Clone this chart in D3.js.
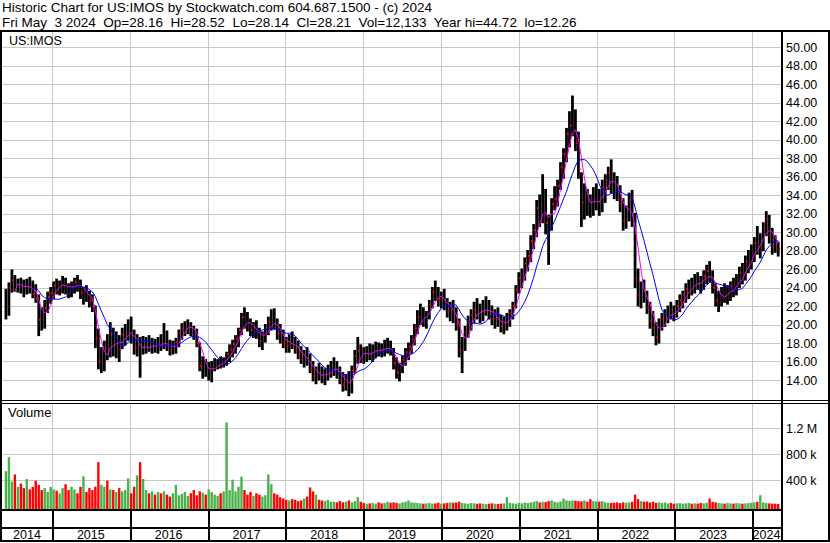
<!DOCTYPE html>
<html>
<head>
<meta charset="utf-8">
<script src="https://cdn.jsdelivr.net/npm/d3@7"></script>
<style>
  body { margin: 0; background: #fff; }
  svg { display: block; font-family: "Liberation Sans", Arial, sans-serif; }
  text { white-space: pre; fill: #000; }
</style>
</head>
<body>
<svg id="chart" width="830" height="543"></svg>
<script>
// biweekly bars, last one is Fri May 3 2024
const lastDate = new Date(Date.UTC(2024, 4, 3));

const highs = [
  23.8,24.5,25.9,25.3,24.9,25.0,24.8,24.9,25.1,24.7,
  24.3,23.2,21.8,22.6,23.5,24.0,24.6,24.9,24.7,25.2,
  25.0,24.4,24.6,25.0,25.3,24.8,24.0,24.2,23.6,23.2,
  22.0,19.5,17.5,18.2,18.9,20.2,19.6,19.2,18.8,19.6,
  20.0,20.5,20.8,19.4,18.9,18.6,18.7,18.6,18.8,18.5,
  18.4,18.6,18.9,20.1,19.3,18.3,18.2,18.5,19.4,20.1,
  20.3,20.5,20.2,19.8,19.5,18.0,16.5,16.2,15.9,16.0,
  16.3,16.2,16.5,16.4,17.0,17.8,18.3,18.8,19.6,21.2,
  21.8,21.3,20.6,20.2,20.4,19.6,19.2,20.0,20.8,21.6,
  21.7,20.6,20.0,19.4,18.6,18.9,19.2,18.6,18.2,17.6,
  17.2,17.5,16.8,16.0,15.4,15.8,15.4,15.2,15.6,16.0,
  16.4,16.0,15.4,14.8,14.6,14.9,15.5,17.2,18.6,17.8,
  17.5,17.6,17.9,17.8,18.1,18.0,17.9,18.3,18.5,18.2,
  17.4,16.4,15.8,16.6,17.4,18.0,18.8,20.0,21.5,22.2,
  21.8,21.4,22.6,24.0,24.7,24.0,23.5,23.8,22.8,22.4,
  22.6,21.8,20.6,18.6,19.8,20.9,21.6,22.4,22.8,22.2,
  22.6,23.0,22.6,22.0,21.6,21.8,21.0,20.8,21.2,21.6,
  22.4,24.2,25.6,26.0,27.2,28.0,29.6,30.8,33.4,34.0,
  36.2,34.6,31.8,33.6,34.9,35.6,37.5,39.0,41.2,43.0,
  44.7,43.2,40.8,36.4,35.2,34.6,34.0,34.8,35.2,34.6,
  35.6,36.2,37.0,37.8,36.4,36.0,35.0,33.6,32.8,34.2,
  34.5,32.0,26.0,24.6,24.8,23.6,22.4,21.4,20.2,20.6,
  21.2,21.6,22.0,22.4,22.0,22.6,23.2,23.6,24.4,24.8,
  25.0,25.4,25.6,25.2,25.8,26.4,26.8,25.8,24.4,23.6,
  24.0,24.4,24.2,24.6,25.0,25.4,26.2,26.6,27.4,28.0,
  28.6,29.4,30.6,29.8,31.0,32.2,31.8,30.4,29.6,28.9
];
const lows = [
  20.6,21.0,23.5,23.6,23.5,23.4,23.0,23.3,23.4,22.9,
  22.4,18.8,19.4,19.6,21.3,22.3,22.8,23.3,23.2,23.4,
  23.3,22.9,23.0,23.4,23.6,22.8,22.2,22.5,21.9,21.4,
  17.5,15.2,14.8,15.0,16.2,16.5,16.6,16.4,16.0,17.4,
  17.8,18.3,18.0,16.8,16.6,14.3,16.8,16.9,17.1,16.9,
  17.0,16.9,17.2,17.4,17.2,16.7,16.8,16.9,17.6,18.4,
  18.8,19.0,18.8,18.4,17.6,15.0,14.2,14.4,14.0,13.8,
  15.0,15.2,15.3,15.4,15.6,16.0,16.5,16.9,17.6,18.9,
  19.6,19.3,18.8,18.6,18.5,17.6,17.3,18.1,18.9,19.4,
  19.5,18.4,18.0,17.5,17.0,17.0,17.4,16.9,16.3,15.8,
  15.4,15.6,14.8,13.9,13.6,14.0,13.7,13.5,14.0,14.3,
  14.5,14.2,13.6,12.8,12.9,12.3,12.6,14.8,15.8,15.9,
  15.8,16.0,16.2,16.0,16.4,16.6,16.5,16.6,16.9,16.7,
  15.2,14.2,13.9,14.8,15.6,16.2,16.9,17.8,19.0,20.0,
  19.8,19.6,20.6,21.8,22.6,22.0,21.8,21.6,20.8,20.4,
  20.2,19.4,16.5,14.8,17.2,18.6,19.4,20.2,20.6,20.2,
  20.4,21.0,20.6,20.0,19.6,19.8,19.2,19.0,19.4,19.8,
  20.6,21.8,23.4,24.0,24.8,25.8,26.8,28.2,29.5,30.6,
  31.0,29.8,26.5,30.2,32.4,32.8,34.6,35.8,37.6,39.2,
  40.4,38.8,35.8,30.6,31.4,31.8,31.6,31.8,32.4,31.8,
  32.2,33.2,34.6,34.2,33.6,33.4,32.2,30.2,30.4,31.2,
  30.6,24.0,22.0,21.8,22.4,21.2,19.6,18.8,17.8,18.0,
  19.4,19.8,20.2,20.6,20.4,20.8,21.4,21.8,22.4,22.8,
  23.2,23.4,23.8,23.4,23.8,24.4,24.6,23.4,22.0,21.4,
  22.0,22.4,22.2,22.6,23.0,23.2,24.0,24.4,24.8,25.6,
  26.0,26.8,27.6,27.2,28.0,29.6,28.8,27.6,27.8,27.4
];
const closes = [
  21.5,24.0,24.8,24.2,24.4,24.0,23.8,24.3,24.2,23.3,
  22.8,20.5,20.0,21.8,23.0,23.4,24.2,24.0,24.4,24.5,
  23.9,23.6,24.2,24.6,24.5,23.4,23.5,23.0,22.6,22.0,
  18.5,16.0,16.5,17.5,16.8,19.0,17.5,18.4,17.3,18.9,
  19.2,19.8,18.6,17.4,17.9,17.0,17.6,17.8,17.5,17.7,
  17.6,18.0,17.8,18.3,17.6,17.2,17.5,18.1,19.0,19.6,
  19.9,20.0,19.4,19.0,18.0,15.5,15.6,14.9,15.0,15.3,
  15.6,15.9,15.8,16.0,16.8,17.3,17.9,18.5,19.4,20.8,
  20.5,20.0,19.4,19.7,19.0,18.2,18.6,19.6,20.3,20.6,
  20.0,19.0,18.6,18.0,17.6,18.3,17.8,17.4,16.8,16.2,
  16.5,16.0,15.2,14.4,14.8,14.6,14.2,14.6,15.0,15.3,
  15.6,14.8,14.0,13.5,13.9,13.2,15.0,16.6,17.2,16.8,
  16.6,17.0,16.8,17.2,17.5,17.2,17.0,17.6,17.9,17.1,
  15.8,14.8,15.3,16.2,17.0,17.6,18.4,19.6,20.8,21.2,
  20.5,20.9,22.2,23.5,23.2,22.6,23.0,22.2,21.4,21.8,
  21.0,20.0,17.2,17.8,19.2,20.2,21.0,21.6,21.4,21.0,
  21.8,22.0,21.2,20.6,20.8,20.2,19.8,20.2,20.6,21.2,
  22.0,23.8,25.0,25.2,26.6,27.4,29.0,30.2,32.6,31.4,
  33.4,31.0,30.4,33.0,33.6,35.0,37.0,38.4,40.6,41.5,
  42.4,39.6,36.8,33.2,33.8,33.0,32.6,33.6,34.0,32.8,
  34.8,35.6,36.4,35.2,34.6,34.2,33.0,31.2,32.2,33.4,
  31.6,25.0,23.2,23.8,23.0,21.8,20.4,19.6,18.6,19.8,
  20.6,20.8,21.4,21.2,21.0,22.0,22.6,23.2,23.8,24.2,
  24.0,24.8,24.6,24.4,25.2,25.8,25.4,24.0,22.6,22.8,
  23.4,23.0,23.6,24.2,23.8,24.8,25.6,25.2,26.8,27.0,
  27.8,28.8,28.4,29.2,30.4,31.4,29.6,28.6,28.4,28.21
];
// volume in thousands of shares
const volumes = [
  540,755,380,490,300,350,280,420,260,300,
  395,330,250,280,220,300,260,240,200,280,
  340,250,300,260,200,300,460,220,280,250,
  300,680,330,300,395,260,250,220,280,230,
  250,430,200,300,475,680,420,250,200,230,
  180,220,200,230,180,150,200,330,170,190,
  220,160,200,250,170,230,210,180,260,220,
  180,160,200,230,1290,250,410,230,300,455,
  250,180,220,160,200,180,150,170,490,340,
  200,180,140,120,100,90,110,100,80,90,
  120,150,290,230,180,100,90,80,100,70,
  70,60,80,60,70,90,60,80,140,70,
  50,40,45,50,40,60,45,50,70,55,
  60,50,45,60,70,90,60,55,50,45,
  40,45,50,40,45,55,40,45,50,60,
  55,60,70,50,45,40,50,45,40,45,
  40,35,40,45,40,35,40,45,140,50,
  45,40,50,45,55,50,60,70,80,60,
  70,65,80,90,70,60,75,120,90,85,
  90,85,80,75,90,70,110,80,75,70,
  80,60,55,50,55,60,50,60,55,60,
  70,180,110,80,70,75,60,70,55,60,
  50,60,45,50,40,45,50,40,45,50,
  40,45,40,50,45,55,120,70,60,50,
  45,40,50,45,40,50,45,40,45,50,
  55,60,70,170,60,50,45,40,40,35
];

const priceTicks = [14,16,18,20,22,24,26,28,30,32,34,36,38,40,42,44,46,48,50];
const volumeTicks = [400000, 800000, 1200000];
const volumeTickLabels = ['400 k', '800 k', '1.2 M'];
const years = [2014,2015,2016,2017,2018,2019,2020,2021,2022,2023,2024];

const titleLine = 'Historic Chart for US:IMOS by Stockwatch.com 604.687.1500 - (c) 2024';
const quoteLine = 'Fri May  3 2024  Op=28.16  Hi=28.52  Lo=28.14  Cl=28.21  Vol=12,133  Year hi=44.72  lo=12.26';

const svg = d3.select('#chart');
const W = 830, H = 543;
const plotL = 2, plotR = 781;
const priceTop = 32, priceBot = 400;
const volTop = 403, volBot = 509;

const n = closes.length;
const dates = closes.map((_, i) => d3.utcDay.offset(lastDate, -14 * (n - 1 - i)));
const idx = d3.range(n);

const x = d3.scaleUtc()
  .domain([new Date(Date.UTC(2014, 0, 1)), new Date(Date.UTC(2024, 0, 1))])
  .range([-25.8, 752]);
const y = d3.scaleLinear().domain([14, 50]).range([380, 47]);
const yv = d3.scaleLinear().domain([0, 1200000]).range([506.3, 428.3]);

svg.append('rect').attr('width', W).attr('height', H).attr('fill', '#fff');

const defs = svg.append('defs');
defs.append('clipPath').attr('id', 'clipP')
  .append('rect').attr('x', plotL).attr('y', priceTop).attr('width', plotR - plotL).attr('height', priceBot - priceTop);
defs.append('clipPath').attr('id', 'clipV')
  .append('rect').attr('x', plotL).attr('y', volTop).attr('width', plotR - plotL).attr('height', volBot - volTop);

// gridlines
const grid = svg.append('g').attr('stroke', '#c8c8c8').attr('stroke-width', 1).attr('shape-rendering', 'crispEdges');
priceTicks.forEach(p => {
  grid.append('line').attr('x1', plotL).attr('x2', plotR)
    .attr('y1', Math.round(y(p)) + 0.5).attr('y2', Math.round(y(p)) + 0.5);
});
volumeTicks.forEach(v => {
  grid.append('line').attr('x1', plotL).attr('x2', plotR)
    .attr('y1', Math.round(yv(v)) + 0.5).attr('y2', Math.round(yv(v)) + 0.5);
});
years.slice(1).forEach(yr => {
  const xx = Math.round(x(new Date(Date.UTC(yr, 0, 1)))) + 0.5;
  grid.append('line').attr('x1', xx).attr('x2', xx).attr('y1', priceTop).attr('y2', priceBot);
  grid.append('line').attr('x1', xx).attr('x2', xx).attr('y1', volTop).attr('y2', volBot);
});

// price bars
const pg = svg.append('g').attr('clip-path', 'url(#clipP)');
pg.selectAll('line.bar').data(idx).join('line')
  .attr('x1', i => x(dates[i])).attr('x2', i => x(dates[i]))
  .attr('y1', i => y(highs[i]) - 0.5).attr('y2', i => y(lows[i]) + 0.5)
  .attr('stroke', '#000').attr('stroke-width', 2.8);
// close ticks: only where they stick out past a neighbouring bar
const tickIdx = idx.filter(i => {
  const c = closes[i];
  const nb = [i - 1, i + 1].filter(j => j >= 0 && j < n);
  return i === n - 1 || nb.some(j => c > highs[j] - 0.2 || c < lows[j] + 0.2);
});
pg.selectAll('rect.tick').data(tickIdx).join('rect')
  .attr('x', i => x(dates[i]) + 0.3)
  .attr('y', i => y(closes[i]) - 1)
  .attr('width', 1.8).attr('height', 2)
  .attr('fill', '#ff0000');

// moving averages of the closes
function sma(k) {
  return closes.map((d, i) => i < k - 1 ? null : d3.mean(closes.slice(i - k + 1, i + 1)));
}
const maLine = d3.line()
  .defined(d => d[1] != null)
  .x(d => x(d[0])).y(d => y(d[1]));
const maShort = sma(4), maLong = sma(10);
pg.append('path').attr('d', maLine(dates.map((d, i) => [d, maShort[i]])))
  .attr('fill', 'none').attr('stroke', '#ff00ff').attr('stroke-width', 1);
pg.append('path').attr('d', maLine(dates.map((d, i) => [d, maLong[i]])))
  .attr('fill', 'none').attr('stroke', '#0000ff').attr('stroke-width', 1);

// volume bars
const vg = svg.append('g').attr('clip-path', 'url(#clipV)');
vg.selectAll('rect').data(idx).join('rect')
  .attr('x', i => x(dates[i]) - 1.2)
  .attr('width', 2.4)
  .attr('y', i => yv(volumes[i] * 1000))
  .attr('height', i => volBot - yv(volumes[i] * 1000))
  .attr('fill', i => {
    if (i === 0) return '#4cb04c';
    return closes[i] > closes[i - 1] ? '#4cb04c' : closes[i] < closes[i - 1] ? '#ff0000' : '#a0a0a0';
  });

// right axes
const axP = svg.append('g').attr('transform', `translate(${plotR + 3},0)`)
  .call(d3.axisRight(y).tickValues(priceTicks).tickSize(0).tickPadding(2).tickFormat(d3.format('.2f')));
const axV = svg.append('g').attr('transform', `translate(${plotR + 3},0)`)
  .call(d3.axisRight(yv).tickValues(volumeTicks).tickSize(0).tickPadding(2)
    .tickFormat((d, i) => volumeTickLabels[i]));
[axP, axV].forEach(a => {
  a.select('.domain').remove();
  a.selectAll('text').attr('fill', '#000').attr('font-size', 12.5)
    .attr('font-family', '"Liberation Sans", Arial, sans-serif');
});

// frame
const frame = svg.append('g').attr('stroke', '#000').attr('shape-rendering', 'crispEdges');
function hline(yy, x1, x2, w) { frame.append('line').attr('x1', x1).attr('x2', x2).attr('y1', yy).attr('y2', yy).attr('stroke-width', w); }
function vline(xx, y1, y2, w) { frame.append('line').attr('x1', xx).attr('x2', xx).attr('y1', y1).attr('y2', y2).attr('stroke-width', w); }
hline(31, 0, W, 2);
hline(400.5, 0, W, 1);
hline(403.5, 0, W, 1);
hline(510, 0, plotR + 1, 2);
hline(528, 0, plotR + 1, 2);
hline(541, 0, W, 2);
vline(1, 30, 542, 2);
vline(829, 30, 542, 2);
vline(782, 30, 542, 2);
years.slice(1).forEach(yr => {
  const xx = Math.round(x(new Date(Date.UTC(yr, 0, 1)))) + 0.5;
  vline(xx, 510, 541, 2);
});

// year labels, centred in the visible part of each year
svg.append('g').selectAll('text').data(years).join('text')
  .attr('x', yr => {
    const a = Math.max(plotL, x(new Date(Date.UTC(yr, 0, 1))));
    const b = Math.min(plotR, x(new Date(Date.UTC(yr + 1, 0, 1))));
    return (a + b) / 2;
  })
  .attr('y', 539)
  .attr('text-anchor', 'middle')
  .attr('font-size', 12.5)
  .text(d => d);

// titles
svg.append('text').attr('x', 2).attr('y', 12).attr('font-size', 13.5).text(titleLine);
svg.append('text').attr('x', 2).attr('y', 26.5).attr('font-size', 13.5).text(quoteLine);
svg.append('text').attr('x', 9).attr('y', 45).attr('font-size', 12.5).text('US:IMOS');
svg.append('text').attr('x', 8).attr('y', 417).attr('font-size', 13).text('Volume');
</script>
</body>
</html>
